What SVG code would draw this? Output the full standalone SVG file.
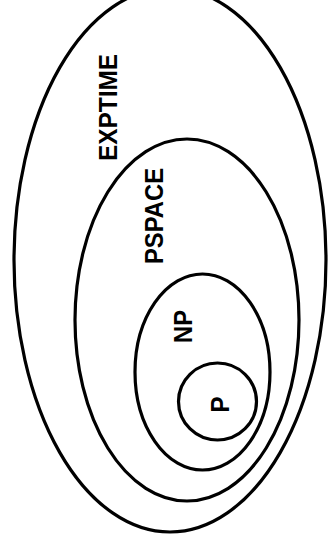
<svg xmlns="http://www.w3.org/2000/svg" width="328" height="550" viewBox="0 0 328 550">
  <style>
    .set { fill: none; stroke: #000; stroke-width: 3.2; }
    .lbl { font-family: "Liberation Sans", Arial, sans-serif; font-weight: bold; font-size: 26px; fill: #000; text-anchor: middle; }
  </style>
  <rect width="328" height="550" fill="#fff"/>
  <g id="exptime">
    <ellipse class="set" cx="170" cy="260" rx="156" ry="272"/>
    <text class="lbl" transform="translate(116.5,107.5) rotate(-90)" textLength="107" lengthAdjust="spacingAndGlyphs">EXPTIME</text>
  </g>
  <g id="pspace">
    <ellipse class="set" cx="187" cy="320" rx="112" ry="181"/>
    <text class="lbl" transform="translate(163,216) rotate(-90)" textLength="96" lengthAdjust="spacingAndGlyphs">PSPACE</text>
  </g>
  <g id="np">
    <ellipse class="set" cx="202.5" cy="372" rx="67.5" ry="98"/>
    <text class="lbl" transform="translate(192,326.5) rotate(-90)" textLength="33" lengthAdjust="spacingAndGlyphs">NP</text>
  </g>
  <g id="p">
    <ellipse class="set" cx="217.5" cy="401.5" rx="39" ry="38.5"/>
    <text class="lbl" transform="translate(229,404.5) rotate(-90)" textLength="16" lengthAdjust="spacingAndGlyphs">P</text>
  </g>
  <g id="connectors"></g>
</svg>
